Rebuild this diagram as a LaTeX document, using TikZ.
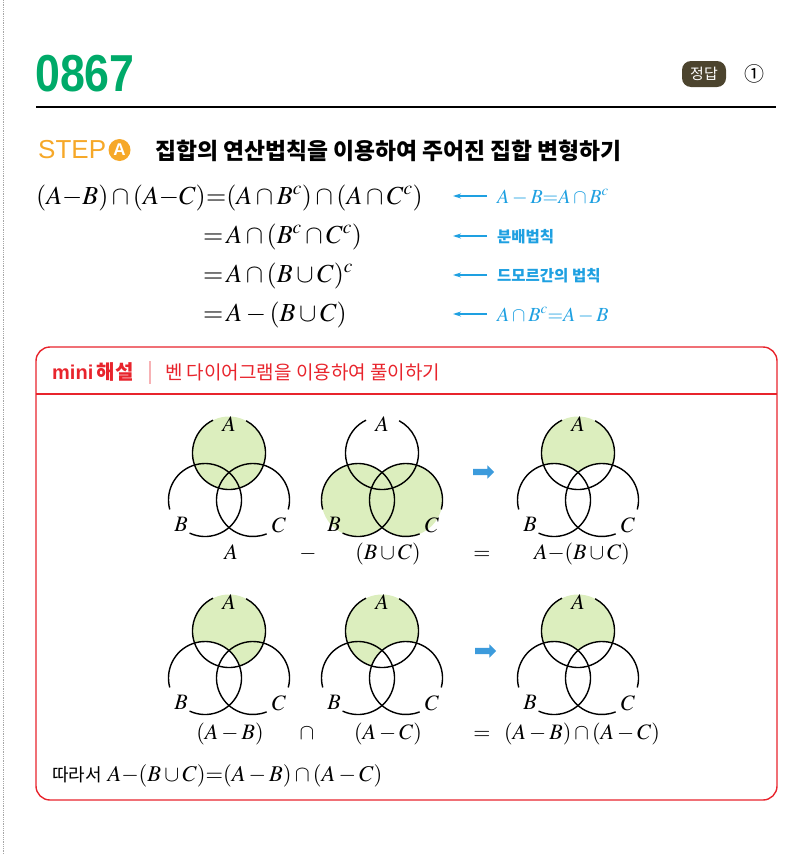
\documentclass[tikz,border=0pt]{standalone}
\usepackage{mathptmx}
\usepackage{fontspec}
\usepackage{graphicx}
\setmainfont{Liberation Serif}
\newfontfamily\kr{Noto Sans CJK KR}
\newfontfamily\sansfont{Liberation Sans}
\usetikzlibrary{shapes.arrows, arrows.meta, positioning}

\definecolor{numgreen}{RGB}{0,170,105}
\definecolor{steporange}{RGB}{246,168,40}
\definecolor{badge}{RGB}{76,68,46}
\definecolor{notecyan}{RGB}{30,160,225}
\definecolor{minired}{RGB}{232,36,44}
\definecolor{vennfill}{RGB}{220,238,190}
\definecolor{arrowblue}{RGB}{60,155,220}

% tight minus
\newcommand{\tmin}{\mathbin{\mkern-2.5mu-\mkern-2.5mu}}

\begin{document}
\begin{tikzpicture}[x=1pt, y=1pt,
            eq/.style={inner sep=0pt, font=\fontsize{26}{30}\selectfont},
            note/.style={anchor=base west, inner sep=0pt, text=notecyan},
            notekr/.style={note, font=\kr\bfseries\fontsize{15.5}{16}\selectfont},
            notemath/.style={note, font=\fontsize{20}{22}\selectfont},
            eqarrow/.style={-{Stealth[length=8pt,width=5pt]}, notecyan, line width=1.2pt},
            vennlabel/.style={inner sep=1pt, font=\fontsize{22}{24}\selectfont},
            caption/.style={anchor=base, inner sep=0pt, font=\fontsize{22}{26}\selectfont},
            setarrow/.style={single arrow, fill=arrowblue, draw=none, minimum height=21pt, minimum width=13pt, single arrow head extend=3.5pt, inner sep=3pt},
            ring/.style={line width=1.4pt}
        ]
\useasboundingbox (0,0) rectangle (802,-854);

% Margin
            \draw[gray!70, densely dotted, line width=0.8pt] (3,0) -- (3,-854);

% Header
            \node[anchor=west, inner sep=0pt, text=numgreen, font=\sansfont\bfseries\fontsize{52}{52}\selectfont] (num) at (35,-74) {\scalebox{0.86}[1]{0867}};
            \node[fill=badge, rounded corners=9pt, text=white, font=\kr\fontsize{15}{15}\selectfont, minimum width=44pt, minimum height=26pt, inner sep=0pt] (badge) at (704,-74) {정답};
            \node[inner sep=0pt, font=\kr\fontsize{20}{20}\selectfont] (answer) at (754,-74) {①};
            \draw[line width=1.5pt] (36,-107) -- (776,-107);

% Step A
            \node[anchor=west, inner sep=0pt, text=steporange, font=\sansfont\fontsize{26}{26}\selectfont] (step) at (38,-150) {STEP};
            \node[circle, fill=steporange, text=white, inner sep=0pt, minimum size=22pt, font=\sansfont\bfseries\fontsize{17}{17}\selectfont, right=2pt of step] (stepA) {A};
            \node[anchor=west, inner sep=0pt, font=\kr\bfseries\fontsize{22.8}{23}\selectfont] (title) at (155,-151) {집합의 연산법칙을 이용하여 주어진 집합 변형하기};

% Equations
            \node[eq, anchor=base east] (l1a) at (206,-204) {$(A\tmin B)\cap(A\tmin C)$};
            \node[eq, anchor=base west] (l1b) at (206,-204) {${=}(A\cap B^c)\cap(A\cap C^c)$};
            \node[eq, anchor=base west] (l2) at (203,-243) {${=}\,A\cap(B^c\cap C^c)$};
            \node[eq, anchor=base west] (l3) at (203,-282) {${=}\,A\cap(B\cup C)^c$};
            \node[eq, anchor=base west] (l4) at (203,-321) {${=}\,A-(B\cup C)$};

% Side notes
            \node[notemath] (n1) at (497,-203) {$A-B{=}A\cap B^c$};
            \node[notekr] (n2) at (497,-242) {분배법칙};
            \node[notekr] (n3) at (497,-281) {드모르간의 법칙};
            \node[notemath] (n4) at (497,-321) {$A\cap B^c{=}A-B$};
            \draw[eqarrow] ([xshift=-10pt]n1.base west) ++(0,7) -- ++(-34,0);
            \draw[eqarrow] ([xshift=-10pt]n2.base west) ++(0,6) -- ++(-34,0);
            \draw[eqarrow] ([xshift=-10pt]n3.base west) ++(0,6) -- ++(-34,0);
            \draw[eqarrow] ([xshift=-10pt]n4.base west) ++(0,7) -- ++(-34,0);

% Mini box
            \draw[minired, line width=1.4pt, rounded corners=14pt] (36,-347) rectangle (777,-800);
            \draw[minired, line width=1.4pt] (36,-394) -- (777,-394);
            \node[anchor=west, inner sep=0pt, text=minired, font=\sansfont\bfseries\fontsize{20}{20}\selectfont] (mini) at (52,-372) {mini\,{\kr\bfseries 해설}};
            \draw[minired!35, line width=1.6pt] (150,-361) -- (150,-384);
            \node[anchor=west, inner sep=0pt, text=minired, font=\kr\fontsize{19}{19}\selectfont] (minititle) at (165,-372) {벤 다이어그램을 이용하여 풀이하기};

% Venn fills, row 1
            \fill[vennfill] (229,-453) circle (36.5);
            \fill[vennfill] (358,-500) circle (36.5);
            \fill[vennfill] (406,-500) circle (36.5);
            \fill[vennfill] (578,-453) circle (36.5);
            \fill[white] (554,-500) circle (36.5);
            \fill[white] (602,-500) circle (36.5);

% Venn fills, row 2
            \fill[vennfill] (229,-631) circle (36.5);
            \fill[white] (205,-678) circle (36.5);
            \fill[vennfill] (382,-631) circle (36.5);
            \fill[white] (406,-678) circle (36.5);
            \fill[vennfill] (578,-631) circle (36.5);
            \fill[white] (554,-678) circle (36.5);
            \fill[white] (602,-678) circle (36.5);

% Venn outlines
            \foreach \x/\y [count=\i] in {229/-453, 382/-453, 578/-453, 229/-631, 382/-631, 578/-631} {
                \draw[ring] (\x,\y) ++(116:36.5) arc[start angle=116, end angle=422, radius=36.5];
                \draw[ring] (\x-24,\y-47) ++(245:36.5) arc[start angle=245, end angle=555, radius=36.5];
                \draw[ring] (\x+24,\y-47) ++(345:36.5) arc[start angle=345, end angle=652, radius=36.5];
                \node[vennlabel] (A\i) at (\x,\y+29) {$A$};
                \node[vennlabel] (B\i) at (\x-48,\y-71) {$B$};
                \node[vennlabel] (C\i) at (\x+50,\y-72) {$C$};
            }

% Arrows between diagrams
            \node[setarrow] (arr1) at (482,-472) {};
            \node[setarrow] (arr2) at (484,-651) {};

% Captions
            \node[caption] (c1) at (231,-559) {$A$};
            \node[caption] (c2) at (308,-559) {$-$};
            \node[caption] (c3) at (388,-559) {$(B\cup C)$};
            \node[caption] (c4) at (482,-559) {$=$};
            \node[caption] (c5) at (582,-559) {$A{-}(B\cup C)$};
            \node[caption] (c6) at (230,-739) {$(A-B)$};
            \node[caption] (c7) at (307,-739) {$\cap$};
            \node[caption] (c8) at (388,-739) {$(A-C)$};
            \node[caption] (c9) at (482,-739) {$=$};
            \node[caption] (c10) at (582,-739) {$(A-B)\cap(A-C)$};

% Conclusion
            \node[anchor=base west, inner sep=0pt, font=\fontsize{22.5}{24}\selectfont] (concl) at (52,-781) {{\kr\fontsize{18}{18}\selectfont 따라서} $A{-}(B\cup C){=}(A-B)\cap(A-C)$};

        \end{tikzpicture}
\end{document}
